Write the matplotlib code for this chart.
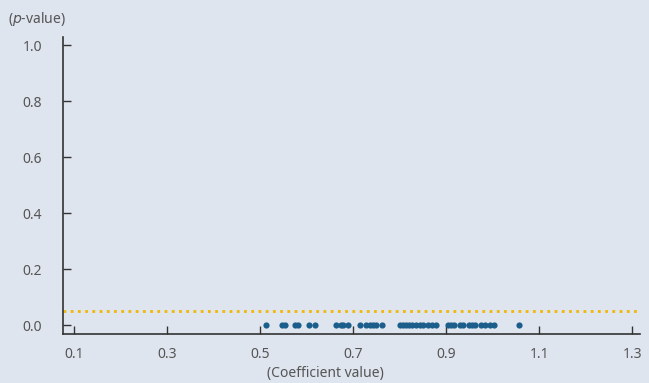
import matplotlib
matplotlib.use("Agg")
import matplotlib.pyplot as plt

plt.rcParams["font.family"] = ["Noto Sans", "DejaVu Sans"]

# estimated coefficients, all with p-value ~ 0
coefs = [0.513, 0.548, 0.554, 0.576, 0.582, 0.606, 0.619, 0.664, 0.673, 0.679,
         0.690, 0.714, 0.727, 0.736, 0.742, 0.749, 0.762, 0.800, 0.807, 0.814,
         0.820, 0.826, 0.835, 0.844, 0.850, 0.861, 0.870, 0.878, 0.904, 0.911,
         0.917, 0.930, 0.937, 0.950, 0.956, 0.963, 0.974, 0.984, 0.995, 1.004,
         1.056]
pvals = [0.0] * len(coefs)
threshold = 0.05
xticks = [0.1, 0.3, 0.5, 0.7, 0.9, 1.1, 1.3]
yticks = [0.0, 0.2, 0.4, 0.6, 0.8, 1.0]

bg = "#dfe5ef"
txt = "#555555"

fig = plt.figure(figsize=(6.49, 3.83), dpi=100, facecolor=bg)
ax = fig.add_axes([63 / 649, 1 - 334 / 383, (640 - 63) / 649, (334 - 37) / 383])
ax.set_facecolor(bg)

ax.axhline(threshold, color="#f2b705", lw=2, ls=(0, (1, 1.6)), zorder=1)
ax.scatter(coefs, pvals, s=20, color="#1b5e8c", zorder=2, linewidths=0)

ax.set_xlim(0.076, 1.317)
ax.set_ylim(-0.032, 1.029)
ax.set_xticks(xticks)
ax.set_xticklabels([f"{v:.1f}" for v in xticks])
ax.set_yticks(yticks)
ax.set_yticklabels([f"{v:.1f}" for v in yticks])
ax.tick_params(direction="in", length=6, width=1, colors="#333333",
               labelcolor=txt, labelsize=10)
ax.tick_params(axis="x", pad=9)
ax.tick_params(axis="y", pad=15)

for s in ["top", "right"]:
    ax.spines[s].set_visible(False)
for s in ["left", "bottom"]:
    ax.spines[s].set_color("#333333")
    ax.spines[s].set_linewidth(1.2)

fig.text(8 / 649, 1 - 19 / 383, "($\\it{p}$-value)", color=txt, fontsize=10,
         va="center", ha="left")
fig.text(325 / 649, 1 - 374 / 383, "(Coefficient value)", color=txt,
         fontsize=10, va="center", ha="center")

fig.savefig("out.png", dpi=100, facecolor=bg)
